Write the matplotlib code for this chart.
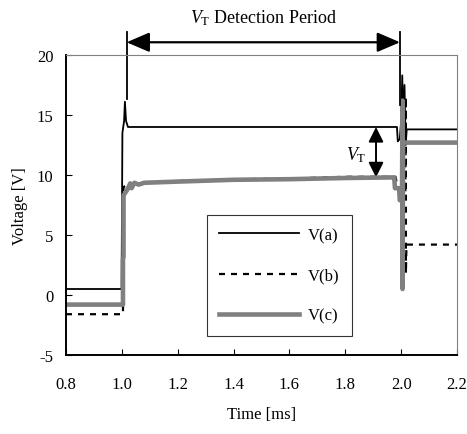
import matplotlib
matplotlib.use('Agg')
import matplotlib.pyplot as plt
from matplotlib.patches import FancyArrowPatch

plt.rcParams['font.family'] = 'Liberation Serif'
plt.rcParams['mathtext.fontset'] = 'custom'
plt.rcParams['mathtext.rm'] = 'Liberation Serif'
plt.rcParams['mathtext.it'] = 'Liberation Serif:italic'
plt.rcParams['axes.unicode_minus'] = False

# -------------------------------
# data
# -------------------------------
t_a = [0.8, 0.999, 1.002, 1.008, 1.011, 1.015, 1.022, 1.985, 1.988, 1.995,
       2.0, 2.004, 2.008, 2.012, 2.016, 2.02, 2.2]
v_a = [0.5, 0.5, 13.5, 14.5, 16.1, 14.5, 14.0, 14.0, 12.8, 13.0,
       14.5, 18.3, 13.5, 17.5, 12.5, 13.8, 13.8]

t_b = [0.8, 1.004, 1.006, 1.03, 1.2, 1.4, 1.6, 1.8, 1.98, 1.99,
       2.015, 2.017, 2.017, 2.019, 2.2]
v_b = [-1.6, -1.6, 9.0, 9.3, 9.5, 9.65, 9.7, 9.85, 9.85, 8.6,
       8.6, 16.5, 1.8, 4.2, 4.2]

t_c = [0.8, 1.004, 1.004, 1.006, 1.006, 1.02, 1.03, 1.035, 1.045, 1.06,
       1.08, 1.2, 1.4, 1.6, 1.8, 1.975, 1.978, 1.993, 1.995, 2.003,
       2.005, 2.005, 2.007, 2.2]
v_c = [-0.8, -0.8, 3.0, 3.2, 8.3, 8.8, 9.3, 8.9, 9.35, 9.2,
       9.35, 9.45, 9.6, 9.65, 9.75, 9.8, 8.9, 8.9, 7.9, 7.9,
       16.2, 0.5, 12.7, 12.7]

x_ticks = [0.8, 1.0, 1.2, 1.4, 1.6, 1.8, 2.0, 2.2]
y_ticks = [-5, 0, 5, 10, 15, 20]

period_start, period_end = 1.017, 1.996
vt_x, vt_top, vt_bottom = 1.91, 14.0, 9.8

# -------------------------------
# figure
# -------------------------------
fig = plt.figure(figsize=(4.67, 4.35), dpi=100)
ax = fig.add_axes([0.1413, 0.1816, 0.8373, 0.6897])

ax.plot(t_a, v_a, color='black', lw=1.3, label='V(a)')
ax.plot(t_b, v_b, color='black', lw=1.6, ls=(0, (2.7, 2.7)), label='V(b)')
ax.plot(t_c, v_c, color='#808080', lw=3.3, label='V(c)')

ax.set_xlim(0.8, 2.2)
ax.set_ylim(-5, 20)
ax.set_xticks(x_ticks)
ax.set_xticklabels([f"{v:.1f}" for v in x_ticks])
ax.set_yticks(y_ticks)
ax.tick_params(direction='in', length=4, width=0.8, labelsize=12, colors='black')
ax.tick_params(axis='x', pad=15)
ax.tick_params(axis='y', pad=9)

for side in ['left', 'bottom']:
    ax.spines[side].set_linewidth(1.4)
    ax.spines[side].set_color('black')
for side in ['top', 'right']:
    ax.spines[side].set_linewidth(0.8)
    ax.spines[side].set_color('#808080')

ax.set_xlabel('Time [ms]', fontsize=12, labelpad=10)
ax.set_ylabel('Voltage [V]', fontsize=12, labelpad=6)

leg = ax.legend(loc='lower left', bbox_to_anchor=(0.3606, 0.0633), borderaxespad=0,
                fontsize=12, frameon=True, fancybox=False, handlelength=4.8,
                labelspacing=1.45, handletextpad=0.5, borderpad=0.75)
leg.get_frame().set_edgecolor('black')
leg.get_frame().set_linewidth(0.8)

# detection period bracket
arr_y = 21.06
ax.plot([period_start, period_start], [21.9, 16.3], color='black', lw=1.3, clip_on=False)
ax.plot([period_end, period_end], [21.9, 15.8], color='black', lw=1.3, clip_on=False)
ax.add_patch(FancyArrowPatch((period_start, arr_y), (period_end, arr_y),
                             arrowstyle='<|-|>,head_length=0.7,head_width=0.3',
                             mutation_scale=20, color='black', lw=1.6,
                             shrinkA=0, shrinkB=0, clip_on=False))
fig.text(263 / 467, 1 - 18 / 435, r'$V_{\mathrm{T}}$ Detection Period',
         ha='center', va='center', fontsize=13)

# V_T arrow
ax.add_patch(FancyArrowPatch((vt_x, vt_top), (vt_x, vt_bottom),
                             arrowstyle='<|-|>,head_length=0.6,head_width=0.3',
                             mutation_scale=15, color='black', lw=1.4,
                             shrinkA=0, shrinkB=0))
ax.text(1.84, 11.7, r'$V_{\mathrm{T}}$', ha='center', va='center', fontsize=13)

fig.savefig('out.png', dpi=100)
